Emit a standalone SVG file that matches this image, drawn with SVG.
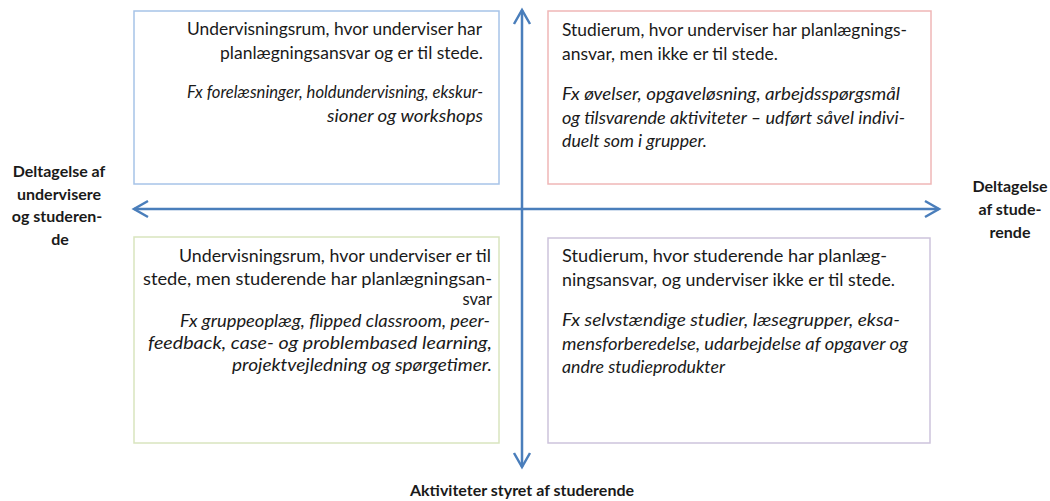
<svg xmlns="http://www.w3.org/2000/svg" width="1050" height="501" viewBox="0 0 1050 501">
<defs>
<style>
.t{font-family:Lato,"Open Sans","Liberation Sans",sans-serif;font-size:16.5px;fill:#1a1a1a}
.i{font-style:italic}
.b{font-family:Lato,"Open Sans","Liberation Sans",sans-serif;font-size:16px;font-weight:bold;fill:#1a1a1a;text-anchor:middle}
.box{fill:#fff;stroke-width:1.5}
.ax{stroke:#4a7ebb;stroke-width:2.5;fill:none}
</style>
<marker id="ah" viewBox="0 0 20 20" refX="17" refY="10" markerWidth="20" markerHeight="20" markerUnits="userSpaceOnUse" orient="auto-start-reverse">
<path d="M3,2 L17,10 L3,18" fill="none" stroke="#4a7ebb" stroke-width="2.5" stroke-linejoin="miter"/>
</marker>
</defs>
<rect width="1050" height="501" fill="#fff"/>
<g id="q1">
<rect class="box" x="134" y="11" width="365" height="173" stroke="#a7c3e8"/>
<text class="t" x="187" y="35" textLength="295" lengthAdjust="spacingAndGlyphs">Undervisningsrum, hvor underviser har</text>
<text class="t" x="220" y="59" textLength="263" lengthAdjust="spacingAndGlyphs">planlægningsansvar  og er til stede.</text>
<text class="t i" x="187" y="98" textLength="296" lengthAdjust="spacingAndGlyphs">Fx forelæsninger,  holdundervisning, ekskur-</text>
<text class="t i" x="327" y="122" textLength="156" lengthAdjust="spacingAndGlyphs">sioner og workshops</text>
</g>
<g id="q2">
<rect class="box" x="548" y="11" width="383" height="173" stroke="#efb7b7"/>
<text class="t" x="562" y="36" textLength="345" lengthAdjust="spacingAndGlyphs">Studierum, hvor underviser har planlægnings-</text>
<text class="t" x="562" y="60" textLength="216" lengthAdjust="spacingAndGlyphs">ansvar, men ikke er til stede.</text>
<text class="t i" x="562" y="100" textLength="338" lengthAdjust="spacingAndGlyphs">Fx øvelser,  opgaveløsning, arbejdsspørgsmål</text>
<text class="t i" x="562" y="124" textLength="343" lengthAdjust="spacingAndGlyphs">og tilsvarende aktiviteter  – udført såvel indivi-</text>
<text class="t i" x="562" y="147" textLength="145" lengthAdjust="spacingAndGlyphs">duelt som i grupper.</text>
</g>
<g id="q3">
<rect class="box" x="134" y="237" width="365" height="206" stroke="#d9e5bf"/>
<text class="t" x="179" y="262" textLength="312" lengthAdjust="spacingAndGlyphs">Undervisningsrum, hvor underviser er til</text>
<text class="t" x="143" y="285" textLength="349" lengthAdjust="spacingAndGlyphs">stede, men studerende har planlægningsan-</text>
<text class="t" x="492" y="305" text-anchor="end">svar</text>
<text class="t i" x="180" y="327" textLength="310" lengthAdjust="spacingAndGlyphs">Fx gruppeoplæg, flipped classroom,  peer-</text>
<text class="t i" x="148" y="349" textLength="344" lengthAdjust="spacingAndGlyphs">feedback, case- og problembased learning,</text>
<text class="t i" x="232" y="371" textLength="260" lengthAdjust="spacingAndGlyphs">projektvejledning  og spørgetimer.</text>
</g>
<g id="q4">
<rect class="box" x="548" y="238" width="382" height="205" stroke="#cdc3dc"/>
<text class="t" x="562" y="262" textLength="325" lengthAdjust="spacingAndGlyphs">Studierum, hvor studerende har planlæg-</text>
<text class="t" x="562" y="286" textLength="333" lengthAdjust="spacingAndGlyphs">ningsansvar,  og underviser ikke er til stede.</text>
<text class="t i" x="562" y="326" textLength="338" lengthAdjust="spacingAndGlyphs">Fx selvstændige studier, læsegrupper, eksa-</text>
<text class="t i" x="562" y="350" textLength="346" lengthAdjust="spacingAndGlyphs">mensforberedelse,  udarbejdelse af opgaver og</text>
<text class="t i" x="562" y="373" textLength="163" lengthAdjust="spacingAndGlyphs">andre studieprodukter</text>
</g>
<g id="connectors">
<line class="ax" x1="522" y1="467" x2="522" y2="10" marker-start="url(#ah)" marker-end="url(#ah)"/>
<line class="ax" x1="134" y1="209" x2="939" y2="209" marker-start="url(#ah)" marker-end="url(#ah)"/>
</g>
<g id="label-left">
<text class="b" x="59" y="177">Deltagelse af</text>
<text class="b" x="59" y="200">undervisere</text>
<text class="b" x="57" y="222">og studeren-</text>
<text class="b" x="60" y="245">de</text>
</g>
<g id="label-right">
<text class="b" x="1010" y="192">Deltagelse</text>
<text class="b" x="1010" y="215">af stude-</text>
<text class="b" x="1010" y="238">rende</text>
</g>
<g id="label-bottom">
<text class="b" x="522" y="496">Aktiviteter styret af studerende</text>
</g>
</svg>
